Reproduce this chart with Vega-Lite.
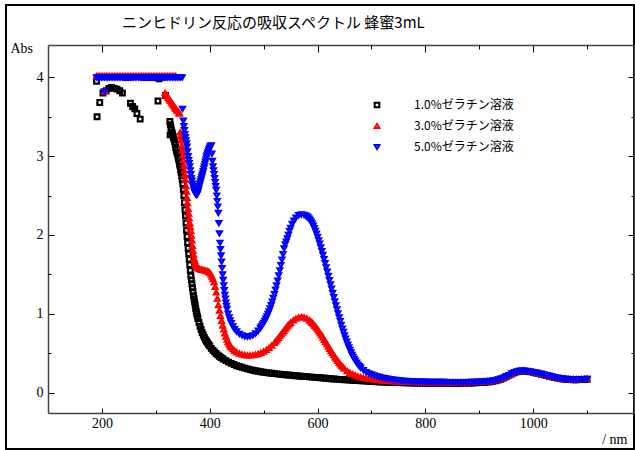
{
"$schema":"https://vega.github.io/schema/vega-lite/v6.json",
"width":628,"height":444,"autosize":"none",
"padding":{"left":6,"top":5,"right":1,"bottom":1},
"background":"white",
"title":{"text":"ニンヒドリン反応の吸収スペクトル 蜂蜜3mL","anchor":"start","frame":"group","dx":116,"offset":-38,"baseline":"alphabetic","font":"Noto Sans CJK JP","fontSize":15,"fontWeight":"normal","color":"#000"},
"config":{"view":{"stroke":"#000","strokeWidth":2},
"axis":{"grid":false,"labelFont":"Liberation Serif","labelFontSize":14,"labelColor":"#000","tickColor":"#000","tickWidth":1,"domainColor":"#444","domainWidth":1.5,"titleFont":"Liberation Serif","titleFontSize":14,"titleFontWeight":"normal","titleColor":"#000","labelFlush":false}},
"resolve":{"axis":{"x":"independent","y":"independent"}},
"layer":[
{"data":{"values":[
{"s":"a","w":190,"v":3.95},{"s":"a","w":191,"v":3.5},{"s":"a","w":196,"v":3.68},{"s":"a","w":202,"v":3.8},{"s":"a","w":208,"v":3.83},{"s":"a","w":213,"v":3.86},{"s":"a","w":218,"v":3.87},{"s":"a","w":223,"v":3.86},{"s":"a","w":228,"v":3.85},{"s":"a","w":233,"v":3.83},{"s":"a","w":238,"v":3.8},{"s":"a","w":244,"v":4},{"s":"a","w":250,"v":4},{"s":"a","w":253,"v":3.67},{"s":"a","w":257,"v":3.63},{"s":"a","w":261,"v":3.6},{"s":"a","w":265,"v":3.54},{"s":"a","w":271,"v":3.47},{"s":"a","w":278,"v":4},{"s":"a","w":286,"v":4},{"s":"a","w":294,"v":4},{"s":"a","w":300,"v":4},{"s":"a","w":304,"v":3.7},{"s":"a","w":306,"v":3.98},{"s":"a","w":312,"v":4},{"s":"a","w":318,"v":3.77},
{"s":"a","w":326,"v":3.44},{"s":"a","w":326.5,"v":3.27},{"s":"a","w":327,"v":3.4},{"s":"a","w":328,"v":3.36},{"s":"a","w":329,"v":3.33},{"s":"a","w":330,"v":3.3},{"s":"a","w":331,"v":3.28},{"s":"a","w":332,"v":3.25},{"s":"a","w":333,"v":3.23},{"s":"a","w":334,"v":3.21},{"s":"a","w":335,"v":3.18},{"s":"a","w":336,"v":3.15},{"s":"a","w":337,"v":3.11},{"s":"a","w":338,"v":3.08},{"s":"a","w":339,"v":3.05},{"s":"a","w":340,"v":3.03},{"s":"a","w":341,"v":3},{"s":"a","w":342,"v":2.97},{"s":"a","w":343,"v":2.94},{"s":"a","w":344,"v":2.9},{"s":"a","w":345,"v":2.87},{"s":"a","w":346,"v":2.83},{"s":"a","w":347,"v":2.79},{"s":"a","w":348,"v":2.75},{"s":"a","w":349,"v":2.7},{"s":"a","w":350,"v":2.65},{"s":"a","w":351,"v":2.58},{"s":"a","w":352,"v":2.5},{"s":"a","w":353,"v":2.41},{"s":"a","w":354,"v":2.32},{"s":"a","w":355,"v":2.24},{"s":"a","w":356,"v":2.15},{"s":"a","w":357,"v":2.06},{"s":"a","w":358,"v":1.98},{"s":"a","w":359,"v":1.9},{"s":"a","w":360,"v":1.83},{"s":"a","w":361,"v":1.76},{"s":"a","w":362,"v":1.69},{"s":"a","w":363,"v":1.62},{"s":"a","w":364,"v":1.55},{"s":"a","w":365,"v":1.48},{"s":"a","w":366,"v":1.43},{"s":"a","w":367,"v":1.38},{"s":"a","w":368,"v":1.33},{"s":"a","w":369,"v":1.28},{"s":"a","w":370,"v":1.23},{"s":"a","w":371,"v":1.19},{"s":"a","w":372,"v":1.15},{"s":"a","w":373,"v":1.11},{"s":"a","w":374,"v":1.07},{"s":"a","w":375,"v":1.03},{"s":"a","w":376,"v":1},{"s":"a","w":377,"v":0.97},{"s":"a","w":378,"v":0.94},{"s":"a","w":380,"v":0.89},{"s":"a","w":382,"v":0.84},{"s":"a","w":384,"v":0.8},{"s":"a","w":386,"v":0.76},{"s":"a","w":388,"v":0.73},{"s":"a","w":390,"v":0.7},{"s":"a","w":392,"v":0.67},{"s":"a","w":394,"v":0.65},{"s":"a","w":396,"v":0.63},{"s":"a","w":398,"v":0.61},{"s":"a","w":400,"v":0.59},{"s":"a","w":403,"v":0.56},{"s":"a","w":406,"v":0.535},{"s":"a","w":409,"v":0.515},{"s":"a","w":412,"v":0.495},{"s":"a","w":415,"v":0.475},{"s":"a","w":418,"v":0.46},{"s":"a","w":421,"v":0.445},{"s":"a","w":425,"v":0.425},
{"s":"a","w":430,"v":0.405},{"s":"a","w":435,"v":0.385},{"s":"a","w":440,"v":0.37},{"s":"a","w":445,"v":0.355},{"s":"a","w":450,"v":0.34},{"s":"a","w":455,"v":0.33},{"s":"a","w":460,"v":0.32},{"s":"a","w":465,"v":0.31},{"s":"a","w":470,"v":0.3},{"s":"a","w":475,"v":0.29},{"s":"a","w":480,"v":0.283},{"s":"a","w":485,"v":0.276},{"s":"a","w":490,"v":0.27},{"s":"a","w":495,"v":0.264},{"s":"a","w":500,"v":0.258},{"s":"a","w":505,"v":0.253},{"s":"a","w":510,"v":0.248},{"s":"a","w":515,"v":0.244},{"s":"a","w":520,"v":0.24},{"s":"a","w":525,"v":0.236},{"s":"a","w":530,"v":0.232},{"s":"a","w":535,"v":0.228},{"s":"a","w":540,"v":0.225},{"s":"a","w":545,"v":0.222},{"s":"a","w":550,"v":0.219},{"s":"a","w":555,"v":0.216},{"s":"a","w":560,"v":0.213},{"s":"a","w":565,"v":0.21},{"s":"a","w":570,"v":0.207},{"s":"a","w":575,"v":0.204},{"s":"a","w":580,"v":0.201},{"s":"a","w":585,"v":0.198},{"s":"a","w":590,"v":0.195},{"s":"a","w":595,"v":0.192},{"s":"a","w":600,"v":0.19},{"s":"a","w":605,"v":0.187},{"s":"a","w":610,"v":0.184},{"s":"a","w":615,"v":0.181},{"s":"a","w":620,"v":0.178},{"s":"a","w":625,"v":0.175},{"s":"a","w":630,"v":0.172},{"s":"a","w":635,"v":0.17},{"s":"a","w":640,"v":0.167},{"s":"a","w":645,"v":0.164},{"s":"a","w":650,"v":0.162},{"s":"a","w":655,"v":0.16},{"s":"a","w":660,"v":0.157},{"s":"a","w":665,"v":0.155},{"s":"a","w":670,"v":0.153},{"s":"a","w":675,"v":0.151},{"s":"a","w":680,"v":0.149},{"s":"a","w":685,"v":0.147},{"s":"a","w":690,"v":0.145},{"s":"a","w":695,"v":0.143},{"s":"a","w":700,"v":0.141},{"s":"a","w":705,"v":0.139},{"s":"a","w":710,"v":0.137},{"s":"a","w":715,"v":0.135},{"s":"a","w":720,"v":0.134},{"s":"a","w":725,"v":0.132},{"s":"a","w":730,"v":0.131},{"s":"a","w":735,"v":0.13},{"s":"a","w":740,"v":0.128},{"s":"a","w":745,"v":0.127},{"s":"a","w":750,"v":0.126},{"s":"a","w":755,"v":0.125},{"s":"a","w":760,"v":0.124},{"s":"a","w":765,"v":0.123},{"s":"a","w":770,"v":0.122},{"s":"a","w":775,"v":0.121},{"s":"a","w":780,"v":0.12},{"s":"a","w":785,"v":0.12},{"s":"a","w":790,"v":0.119},{"s":"a","w":795,"v":0.119},{"s":"a","w":800,"v":0.118},{"s":"a","w":805,"v":0.118},{"s":"a","w":810,"v":0.118},{"s":"a","w":815,"v":0.117},{"s":"a","w":820,"v":0.117},{"s":"a","w":825,"v":0.117},{"s":"a","w":830,"v":0.117},{"s":"a","w":835,"v":0.117},{"s":"a","w":840,"v":0.117},{"s":"a","w":845,"v":0.117},{"s":"a","w":850,"v":0.117},{"s":"a","w":855,"v":0.118},{"s":"a","w":860,"v":0.118},{"s":"a","w":865,"v":0.118},{"s":"a","w":870,"v":0.119},{"s":"a","w":875,"v":0.119},{"s":"a","w":880,"v":0.12},{"s":"a","w":885,"v":0.121},{"s":"a","w":890,"v":0.122},{"s":"a","w":895,"v":0.123},{"s":"a","w":900,"v":0.125},{"s":"a","w":905,"v":0.127},{"s":"a","w":910,"v":0.13},{"s":"a","w":915,"v":0.133},{"s":"a","w":920,"v":0.137},{"s":"a","w":925,"v":0.142},{"s":"a","w":930,"v":0.148},{"s":"a","w":935,"v":0.157},{"s":"a","w":940,"v":0.168},{"s":"a","w":945,"v":0.183},{"s":"a","w":950,"v":0.2},{"s":"a","w":955,"v":0.218},{"s":"a","w":960,"v":0.235},{"s":"a","w":965,"v":0.25},{"s":"a","w":970,"v":0.262},{"s":"a","w":975,"v":0.27},{"s":"a","w":980,"v":0.273},{"s":"a","w":985,"v":0.272},{"s":"a","w":990,"v":0.268},{"s":"a","w":995,"v":0.262},{"s":"a","w":1000,"v":0.255},{"s":"a","w":1005,"v":0.248},{"s":"a","w":1010,"v":0.24},{"s":"a","w":1015,"v":0.232},{"s":"a","w":1020,"v":0.224},{"s":"a","w":1025,"v":0.215},{"s":"a","w":1030,"v":0.206},{"s":"a","w":1035,"v":0.198},{"s":"a","w":1040,"v":0.19},{"s":"a","w":1045,"v":0.183},{"s":"a","w":1050,"v":0.177},{"s":"a","w":1055,"v":0.172},{"s":"a","w":1060,"v":0.168},{"s":"a","w":1065,"v":0.165},{"s":"a","w":1070,"v":0.163},{"s":"a","w":1075,"v":0.162},{"s":"a","w":1080,"v":0.162},{"s":"a","w":1085,"v":0.163},{"s":"a","w":1090,"v":0.165},{"s":"a","w":1095,"v":0.167},{"s":"a","w":1100,"v":0.169},
{"s":"b","w":190,"v":4.015},{"s":"b","w":193,"v":4.015},{"s":"b","w":196,"v":4.015},{"s":"b","w":199,"v":4.015},{"s":"b","w":202,"v":4.015},{"s":"b","w":205,"v":4.015},{"s":"b","w":208,"v":4.015},{"s":"b","w":211,"v":4.015},{"s":"b","w":214,"v":4.015},{"s":"b","w":217,"v":4.015},{"s":"b","w":220,"v":4.015},{"s":"b","w":223,"v":4.015},{"s":"b","w":226,"v":4.015},{"s":"b","w":229,"v":4.015},{"s":"b","w":232,"v":4.015},{"s":"b","w":235,"v":4.015},{"s":"b","w":238,"v":4.015},{"s":"b","w":241,"v":4.015},{"s":"b","w":244,"v":4.015},{"s":"b","w":247,"v":4.015},{"s":"b","w":250,"v":4.015},{"s":"b","w":253,"v":4.015},{"s":"b","w":256,"v":4.015},{"s":"b","w":259,"v":4.015},{"s":"b","w":262,"v":4.015},{"s":"b","w":265,"v":4.015},{"s":"b","w":268,"v":4.015},{"s":"b","w":271,"v":4.015},{"s":"b","w":274,"v":4.015},{"s":"b","w":277,"v":4.015},{"s":"b","w":280,"v":4.015},{"s":"b","w":283,"v":4.015},{"s":"b","w":286,"v":4.015},{"s":"b","w":289,"v":4.015},{"s":"b","w":292,"v":4.015},{"s":"b","w":295,"v":4.015},{"s":"b","w":298,"v":4.015},{"s":"b","w":301,"v":4.015},{"s":"b","w":304,"v":4.015},{"s":"b","w":307,"v":4.015},{"s":"b","w":310,"v":4.015},{"s":"b","w":313,"v":4.015},{"s":"b","w":316,"v":4.015},{"s":"b","w":319,"v":4.015},{"s":"b","w":322,"v":4.015},{"s":"b","w":325,"v":4.015},{"s":"b","w":328,"v":4.015},{"s":"b","w":331,"v":4.015},{"s":"b","w":334,"v":4.015},{"s":"b","w":337,"v":4.015},{"s":"b","w":206,"v":3.82},
{"s":"b","w":317,"v":3.8},{"s":"b","w":319,"v":3.78},{"s":"b","w":321,"v":3.76},{"s":"b","w":323,"v":3.74},{"s":"b","w":325,"v":3.72},{"s":"b","w":327,"v":3.7},{"s":"b","w":329,"v":3.68},{"s":"b","w":331,"v":3.66},{"s":"b","w":333,"v":3.64},{"s":"b","w":335,"v":3.62},{"s":"b","w":337,"v":3.6},{"s":"b","w":339,"v":3.58},{"s":"b","w":341,"v":3.57},{"s":"b","w":343,"v":3.55},{"s":"b","w":344,"v":3.54},
{"s":"b","w":345,"v":3.3},{"s":"b","w":346,"v":3.25},{"s":"b","w":347,"v":3.2},{"s":"b","w":348,"v":3.13},{"s":"b","w":349,"v":3.07},{"s":"b","w":350,"v":3.01},{"s":"b","w":351,"v":2.95},{"s":"b","w":352,"v":2.88},{"s":"b","w":353,"v":2.82},{"s":"b","w":354,"v":2.76},{"s":"b","w":355,"v":2.7},{"s":"b","w":356,"v":2.62},{"s":"b","w":357,"v":2.55},{"s":"b","w":358,"v":2.47},{"s":"b","w":359,"v":2.4},{"s":"b","w":360,"v":2.33},{"s":"b","w":361,"v":2.27},{"s":"b","w":362,"v":2.21},{"s":"b","w":363,"v":2.15},{"s":"b","w":364,"v":2.1},{"s":"b","w":365,"v":2.05},{"s":"b","w":366,"v":1.99},{"s":"b","w":367,"v":1.93},{"s":"b","w":368,"v":1.86},{"s":"b","w":369,"v":1.8},{"s":"b","w":370,"v":1.75},{"s":"b","w":371,"v":1.7},{"s":"b","w":372,"v":1.67},{"s":"b","w":373,"v":1.64},{"s":"b","w":374,"v":1.62},{"s":"b","w":375,"v":1.6},{"s":"b","w":377,"v":1.585},{"s":"b","w":379,"v":1.575},{"s":"b","w":381,"v":1.565},{"s":"b","w":384,"v":1.56},{"s":"b","w":387,"v":1.555},{"s":"b","w":390,"v":1.55},{"s":"b","w":393,"v":1.545},{"s":"b","w":396,"v":1.54},{"s":"b","w":398,"v":1.53},{"s":"b","w":400,"v":1.52},{"s":"b","w":402,"v":1.5},{"s":"b","w":404,"v":1.47},{"s":"b","w":406,"v":1.44},{"s":"b","w":408,"v":1.4},{"s":"b","w":410,"v":1.34},{"s":"b","w":412,"v":1.27},{"s":"b","w":414,"v":1.19},{"s":"b","w":416,"v":1.11},{"s":"b","w":418,"v":1.04},{"s":"b","w":420,"v":0.97},{"s":"b","w":422,"v":0.91},{"s":"b","w":424,"v":0.85},{"s":"b","w":426,"v":0.8},{"s":"b","w":428,"v":0.75},{"s":"b","w":430,"v":0.71},{"s":"b","w":432,"v":0.67},{"s":"b","w":434,"v":0.64},{"s":"b","w":436,"v":0.615},{"s":"b","w":438,"v":0.59},{"s":"b","w":440,"v":0.572},{"s":"b","w":443,"v":0.55},{"s":"b","w":446,"v":0.53},{"s":"b","w":450,"v":0.51},{"s":"b","w":455,"v":0.495},{"s":"b","w":460,"v":0.483},{"s":"b","w":465,"v":0.475},{"s":"b","w":470,"v":0.47},{"s":"b","w":475,"v":0.47},{"s":"b","w":480,"v":0.473},{"s":"b","w":485,"v":0.48},{"s":"b","w":490,"v":0.49},{"s":"b","w":495,"v":0.503},{"s":"b","w":500,"v":0.52},{"s":"b","w":505,"v":0.54},{"s":"b","w":510,"v":0.565},{"s":"b","w":515,"v":0.595},{"s":"b","w":520,"v":0.63},{"s":"b","w":522.5,"v":0.65},{"s":"b","w":525,"v":0.67},{"s":"b","w":527.5,"v":0.692},{"s":"b","w":530,"v":0.715},{"s":"b","w":532.5,"v":0.737},{"s":"b","w":535,"v":0.76},{"s":"b","w":537.5,"v":0.782},{"s":"b","w":540,"v":0.805},{"s":"b","w":542.5,"v":0.828},{"s":"b","w":545,"v":0.85},{"s":"b","w":547.5,"v":0.868},{"s":"b","w":550,"v":0.885},{"s":"b","w":555,"v":0.915},{"s":"b","w":560,"v":0.937},{"s":"b","w":565,"v":0.952},{"s":"b","w":570,"v":0.958},{"s":"b","w":575,"v":0.953},{"s":"b","w":580,"v":0.938},{"s":"b","w":585,"v":0.915},{"s":"b","w":587.5,"v":0.9},{"s":"b","w":590,"v":0.884},{"s":"b","w":592.5,"v":0.866},{"s":"b","w":595,"v":0.846},{"s":"b","w":597.5,"v":0.824},{"s":"b","w":600,"v":0.8},{"s":"b","w":602.5,"v":0.776},{"s":"b","w":605,"v":0.75},{"s":"b","w":607.5,"v":0.724},{"s":"b","w":610,"v":0.697},{"s":"b","w":612.5,"v":0.669},{"s":"b","w":615,"v":0.64},{"s":"b","w":617.5,"v":0.612},{"s":"b","w":620,"v":0.583},{"s":"b","w":622.5,"v":0.555},{"s":"b","w":625,"v":0.527},{"s":"b","w":627.5,"v":0.5},{"s":"b","w":630,"v":0.473},{"s":"b","w":632.5,"v":0.447},{"s":"b","w":635,"v":0.423},{"s":"b","w":637.5,"v":0.4},{"s":"b","w":640,"v":0.377},{"s":"b","w":642.5,"v":0.356},{"s":"b","w":645,"v":0.337},{"s":"b","w":647.5,"v":0.319},{"s":"b","w":650,"v":0.302},{"s":"b","w":655,"v":0.273},{"s":"b","w":660,"v":0.25},{"s":"b","w":665,"v":0.232},{"s":"b","w":670,"v":0.217},{"s":"b","w":675,"v":0.205},{"s":"b","w":680,"v":0.195},{"s":"b","w":685,"v":0.187},{"s":"b","w":690,"v":0.18},{"s":"b","w":695,"v":0.174},{"s":"b","w":700,"v":0.169},{"s":"b","w":705,"v":0.164},{"s":"b","w":710,"v":0.16},{"s":"b","w":715,"v":0.156},{"s":"b","w":720,"v":0.152},{"s":"b","w":725,"v":0.149},{"s":"b","w":730,"v":0.147},{"s":"b","w":735,"v":0.145},{"s":"b","w":740,"v":0.143},{"s":"b","w":745,"v":0.141},{"s":"b","w":750,"v":0.139},{"s":"b","w":755,"v":0.138},{"s":"b","w":760,"v":0.137},{"s":"b","w":765,"v":0.136},{"s":"b","w":770,"v":0.135},{"s":"b","w":775,"v":0.134},{"s":"b","w":780,"v":0.133},{"s":"b","w":785,"v":0.132},{"s":"b","w":790,"v":0.131},{"s":"b","w":795,"v":0.131},{"s":"b","w":800,"v":0.13},{"s":"b","w":805,"v":0.13},{"s":"b","w":810,"v":0.13},{"s":"b","w":815,"v":0.129},{"s":"b","w":820,"v":0.129},{"s":"b","w":825,"v":0.129},{"s":"b","w":830,"v":0.129},{"s":"b","w":835,"v":0.129},{"s":"b","w":840,"v":0.129},{"s":"b","w":845,"v":0.129},{"s":"b","w":850,"v":0.129},{"s":"b","w":855,"v":0.13},{"s":"b","w":860,"v":0.13},{"s":"b","w":865,"v":0.13},{"s":"b","w":870,"v":0.131},{"s":"b","w":875,"v":0.131},{"s":"b","w":880,"v":0.132},{"s":"b","w":885,"v":0.133},{"s":"b","w":890,"v":0.134},{"s":"b","w":895,"v":0.135},{"s":"b","w":900,"v":0.137},{"s":"b","w":905,"v":0.138},{"s":"b","w":910,"v":0.14},{"s":"b","w":915,"v":0.142},{"s":"b","w":920,"v":0.146},{"s":"b","w":925,"v":0.15},{"s":"b","w":930,"v":0.156},{"s":"b","w":935,"v":0.164},{"s":"b","w":940,"v":0.175},{"s":"b","w":945,"v":0.189},{"s":"b","w":950,"v":0.206},{"s":"b","w":955,"v":0.224},{"s":"b","w":960,"v":0.241},{"s":"b","w":965,"v":0.256},{"s":"b","w":970,"v":0.268},{"s":"b","w":975,"v":0.276},{"s":"b","w":980,"v":0.279},{"s":"b","w":985,"v":0.278},{"s":"b","w":990,"v":0.274},{"s":"b","w":995,"v":0.268},{"s":"b","w":1000,"v":0.261},{"s":"b","w":1005,"v":0.254},{"s":"b","w":1010,"v":0.246},{"s":"b","w":1015,"v":0.238},{"s":"b","w":1020,"v":0.23},{"s":"b","w":1025,"v":0.221},{"s":"b","w":1030,"v":0.212},{"s":"b","w":1035,"v":0.204},{"s":"b","w":1040,"v":0.196},{"s":"b","w":1045,"v":0.189},{"s":"b","w":1050,"v":0.183},{"s":"b","w":1055,"v":0.178},{"s":"b","w":1060,"v":0.174},{"s":"b","w":1065,"v":0.171},{"s":"b","w":1070,"v":0.169},{"s":"b","w":1075,"v":0.168},{"s":"b","w":1080,"v":0.168},{"s":"b","w":1085,"v":0.169},{"s":"b","w":1090,"v":0.171},{"s":"b","w":1095,"v":0.173},{"s":"b","w":1100,"v":0.175},
{"s":"c","w":190,"v":4},{"s":"c","w":193,"v":4},{"s":"c","w":196,"v":4},{"s":"c","w":199,"v":4},{"s":"c","w":202,"v":4},{"s":"c","w":205,"v":4},{"s":"c","w":208,"v":4},{"s":"c","w":211,"v":4},{"s":"c","w":214,"v":4},{"s":"c","w":217,"v":4},{"s":"c","w":220,"v":4},{"s":"c","w":223,"v":4},{"s":"c","w":226,"v":4},{"s":"c","w":229,"v":4},{"s":"c","w":232,"v":4},{"s":"c","w":235,"v":4},{"s":"c","w":238,"v":4},{"s":"c","w":241,"v":4},{"s":"c","w":244,"v":4},{"s":"c","w":247,"v":4},{"s":"c","w":250,"v":4},{"s":"c","w":253,"v":4},{"s":"c","w":256,"v":4},{"s":"c","w":259,"v":4},{"s":"c","w":262,"v":4},{"s":"c","w":265,"v":4},{"s":"c","w":268,"v":4},{"s":"c","w":271,"v":4},{"s":"c","w":274,"v":4},{"s":"c","w":277,"v":4},{"s":"c","w":280,"v":4},{"s":"c","w":283,"v":4},{"s":"c","w":286,"v":4},{"s":"c","w":289,"v":4},{"s":"c","w":292,"v":4},{"s":"c","w":295,"v":4},{"s":"c","w":298,"v":4},{"s":"c","w":301,"v":4},{"s":"c","w":304,"v":4},{"s":"c","w":307,"v":4},{"s":"c","w":310,"v":4},{"s":"c","w":313,"v":4},{"s":"c","w":316,"v":4},{"s":"c","w":319,"v":4},{"s":"c","w":322,"v":4},{"s":"c","w":325,"v":4},{"s":"c","w":328,"v":4},{"s":"c","w":331,"v":4},{"s":"c","w":334,"v":4},{"s":"c","w":337,"v":4},{"s":"c","w":340,"v":4},{"s":"c","w":343,"v":4},{"s":"c","w":346,"v":4},{"s":"c","w":349,"v":4},{"s":"c","w":205,"v":3.82},{"s":"c","w":349.5,"v":3.6},
{"s":"c","w":351,"v":3.45},{"s":"c","w":352,"v":3.38},{"s":"c","w":353,"v":3.33},{"s":"c","w":354,"v":3.28},{"s":"c","w":355,"v":3.24},{"s":"c","w":356,"v":3.2},{"s":"c","w":357,"v":3.16},{"s":"c","w":358,"v":3.12},{"s":"c","w":359,"v":3.06},{"s":"c","w":360,"v":3},{"s":"c","w":361,"v":2.95},{"s":"c","w":362,"v":2.91},{"s":"c","w":363,"v":2.87},{"s":"c","w":364,"v":2.82},{"s":"c","w":365,"v":2.77},{"s":"c","w":366,"v":2.72},{"s":"c","w":367,"v":2.69},{"s":"c","w":368,"v":2.65},{"s":"c","w":369,"v":2.62},{"s":"c","w":370,"v":2.59},{"s":"c","w":371,"v":2.57},{"s":"c","w":372,"v":2.55},{"s":"c","w":373,"v":2.53},{"s":"c","w":374,"v":2.52},{"s":"c","w":375,"v":2.51},{"s":"c","w":376,"v":2.51},{"s":"c","w":377,"v":2.52},{"s":"c","w":378,"v":2.54},{"s":"c","w":379,"v":2.57},{"s":"c","w":380,"v":2.6},{"s":"c","w":381,"v":2.63},{"s":"c","w":382,"v":2.655},{"s":"c","w":383,"v":2.68},{"s":"c","w":384,"v":2.705},{"s":"c","w":385,"v":2.73},{"s":"c","w":386,"v":2.755},{"s":"c","w":387,"v":2.78},{"s":"c","w":388,"v":2.81},{"s":"c","w":389,"v":2.84},{"s":"c","w":390,"v":2.87},{"s":"c","w":391,"v":2.9},{"s":"c","w":392,"v":2.93},{"s":"c","w":393,"v":2.96},{"s":"c","w":394,"v":2.99},{"s":"c","w":395,"v":3.01},{"s":"c","w":396,"v":3.03},{"s":"c","w":397,"v":3.05},{"s":"c","w":398,"v":3.07},{"s":"c","w":399,"v":3.09},{"s":"c","w":400,"v":3.105},{"s":"c","w":401,"v":3.12},{"s":"c","w":402,"v":3.13},{"s":"c","w":403,"v":3.135},{"s":"c","w":404,"v":3.03},{"s":"c","w":405,"v":2.94},{"s":"c","w":406,"v":2.87},{"s":"c","w":407,"v":2.82},{"s":"c","w":408,"v":2.77},{"s":"c","w":409,"v":2.72},{"s":"c","w":410,"v":2.67},{"s":"c","w":411,"v":2.62},{"s":"c","w":412,"v":2.57},{"s":"c","w":413,"v":2.5},{"s":"c","w":414,"v":2.43},{"s":"c","w":415,"v":2.36},{"s":"c","w":416,"v":2.28},{"s":"c","w":417,"v":2.15},{"s":"c","w":418,"v":2.02},{"s":"c","w":419,"v":1.9},{"s":"c","w":420,"v":1.82},{"s":"c","w":421,"v":1.74},{"s":"c","w":422,"v":1.66},{"s":"c","w":423,"v":1.58},{"s":"c","w":424,"v":1.5},{"s":"c","w":425,"v":1.43},{"s":"c","w":426,"v":1.36},{"s":"c","w":427,"v":1.3},{"s":"c","w":428,"v":1.24},{"s":"c","w":429,"v":1.19},{"s":"c","w":430,"v":1.14},{"s":"c","w":431,"v":1.1},{"s":"c","w":432,"v":1.06},{"s":"c","w":434,"v":1},{"s":"c","w":436,"v":0.955},{"s":"c","w":438,"v":0.915},{"s":"c","w":440,"v":0.88},{"s":"c","w":443,"v":0.84},{"s":"c","w":446,"v":0.805},{"s":"c","w":450,"v":0.775},{"s":"c","w":455,"v":0.745},{"s":"c","w":460,"v":0.725},{"s":"c","w":465,"v":0.713},{"s":"c","w":470,"v":0.71},{"s":"c","w":475,"v":0.713},{"s":"c","w":480,"v":0.725},{"s":"c","w":485,"v":0.75},{"s":"c","w":490,"v":0.785},{"s":"c","w":494,"v":0.82},{"s":"c","w":496,"v":0.84},{"s":"c","w":498,"v":0.862},{"s":"c","w":500,"v":0.885},{"s":"c","w":502,"v":0.91},{"s":"c","w":504,"v":0.937},{"s":"c","w":506,"v":0.965},{"s":"c","w":508,"v":0.997},{"s":"c","w":510,"v":1.03},{"s":"c","w":512,"v":1.068},{"s":"c","w":514,"v":1.108},{"s":"c","w":516,"v":1.152},{"s":"c","w":518,"v":1.2},{"s":"c","w":520,"v":1.25},{"s":"c","w":522,"v":1.305},{"s":"c","w":524,"v":1.36},{"s":"c","w":526,"v":1.42},{"s":"c","w":528,"v":1.485},{"s":"c","w":530,"v":1.55},{"s":"c","w":532,"v":1.618},{"s":"c","w":534,"v":1.686},{"s":"c","w":536,"v":1.755},{"s":"c","w":538,"v":1.83},{"s":"c","w":540,"v":1.88},{"s":"c","w":542,"v":1.915},{"s":"c","w":544,"v":1.955},{"s":"c","w":546,"v":2},{"s":"c","w":548,"v":2.05},{"s":"c","w":550,"v":2.09},{"s":"c","w":553,"v":2.14},{"s":"c","w":556,"v":2.18},{"s":"c","w":560,"v":2.22},{"s":"c","w":565,"v":2.25},{"s":"c","w":570,"v":2.26},{"s":"c","w":575,"v":2.255},{"s":"c","w":578,"v":2.245},{"s":"c","w":580,"v":2.235},{"s":"c","w":582,"v":2.222},{"s":"c","w":584,"v":2.208},{"s":"c","w":586,"v":2.19},{"s":"c","w":588,"v":2.17},{"s":"c","w":590,"v":2.145},{"s":"c","w":592,"v":2.117},{"s":"c","w":594,"v":2.087},{"s":"c","w":596,"v":2.052},{"s":"c","w":598,"v":2.015},{"s":"c","w":600,"v":1.975},{"s":"c","w":602,"v":1.932},{"s":"c","w":604,"v":1.888},{"s":"c","w":606,"v":1.842},{"s":"c","w":608,"v":1.794},{"s":"c","w":610,"v":1.745},{"s":"c","w":612,"v":1.694},{"s":"c","w":614,"v":1.642},{"s":"c","w":616,"v":1.589},{"s":"c","w":618,"v":1.535},{"s":"c","w":620,"v":1.48},{"s":"c","w":622,"v":1.426},{"s":"c","w":624,"v":1.372},{"s":"c","w":626,"v":1.318},{"s":"c","w":628,"v":1.264},{"s":"c","w":630,"v":1.21},{"s":"c","w":632,"v":1.158},{"s":"c","w":634,"v":1.106},{"s":"c","w":636,"v":1.055},{"s":"c","w":638,"v":1.005},{"s":"c","w":640,"v":0.955},{"s":"c","w":642,"v":0.907},{"s":"c","w":644,"v":0.859},{"s":"c","w":646,"v":0.812},{"s":"c","w":648,"v":0.768},{"s":"c","w":650,"v":0.725},{"s":"c","w":652,"v":0.684},{"s":"c","w":654,"v":0.645},{"s":"c","w":656,"v":0.607},{"s":"c","w":658,"v":0.572},{"s":"c","w":660,"v":0.54},{"s":"c","w":662,"v":0.509},{"s":"c","w":664,"v":0.479},{"s":"c","w":666,"v":0.452},{"s":"c","w":668,"v":0.428},{"s":"c","w":670,"v":0.405},{"s":"c","w":672.5,"v":0.38},{"s":"c","w":675,"v":0.355},{"s":"c","w":677.5,"v":0.334},{"s":"c","w":680,"v":0.315},{"s":"c","w":685,"v":0.285},{"s":"c","w":690,"v":0.26},{"s":"c","w":695,"v":0.243},{"s":"c","w":700,"v":0.23},{"s":"c","w":705,"v":0.217},{"s":"c","w":710,"v":0.205},{"s":"c","w":715,"v":0.197},{"s":"c","w":720,"v":0.19},{"s":"c","w":725,"v":0.182},{"s":"c","w":730,"v":0.175},{"s":"c","w":735,"v":0.17},{"s":"c","w":740,"v":0.165},{"s":"c","w":745,"v":0.16},{"s":"c","w":750,"v":0.156},{"s":"c","w":755,"v":0.152},{"s":"c","w":760,"v":0.149},{"s":"c","w":765,"v":0.147},{"s":"c","w":770,"v":0.145},{"s":"c","w":775,"v":0.143},{"s":"c","w":780,"v":0.141},{"s":"c","w":785,"v":0.14},{"s":"c","w":790,"v":0.139},{"s":"c","w":795,"v":0.138},{"s":"c","w":800,"v":0.137},{"s":"c","w":805,"v":0.136},{"s":"c","w":810,"v":0.136},{"s":"c","w":815,"v":0.135},{"s":"c","w":820,"v":0.135},{"s":"c","w":825,"v":0.134},{"s":"c","w":830,"v":0.134},{"s":"c","w":835,"v":0.134},{"s":"c","w":840,"v":0.133},{"s":"c","w":845,"v":0.133},{"s":"c","w":850,"v":0.133},{"s":"c","w":855,"v":0.133},{"s":"c","w":860,"v":0.133},{"s":"c","w":865,"v":0.133},{"s":"c","w":870,"v":0.133},{"s":"c","w":875,"v":0.133},{"s":"c","w":880,"v":0.133},{"s":"c","w":885,"v":0.134},{"s":"c","w":890,"v":0.135},{"s":"c","w":895,"v":0.136},{"s":"c","w":900,"v":0.138},{"s":"c","w":905,"v":0.14},{"s":"c","w":910,"v":0.142},{"s":"c","w":915,"v":0.145},{"s":"c","w":920,"v":0.148},{"s":"c","w":925,"v":0.152},{"s":"c","w":930,"v":0.158},{"s":"c","w":935,"v":0.166},{"s":"c","w":940,"v":0.176},{"s":"c","w":945,"v":0.188},{"s":"c","w":950,"v":0.205},{"s":"c","w":955,"v":0.222},{"s":"c","w":960,"v":0.239},{"s":"c","w":965,"v":0.254},{"s":"c","w":970,"v":0.266},{"s":"c","w":975,"v":0.274},{"s":"c","w":980,"v":0.277},{"s":"c","w":985,"v":0.276},{"s":"c","w":990,"v":0.272},{"s":"c","w":995,"v":0.266},{"s":"c","w":1000,"v":0.259},{"s":"c","w":1005,"v":0.252},{"s":"c","w":1010,"v":0.244},{"s":"c","w":1015,"v":0.236},{"s":"c","w":1020,"v":0.228},{"s":"c","w":1025,"v":0.219},{"s":"c","w":1030,"v":0.21},{"s":"c","w":1035,"v":0.202},{"s":"c","w":1040,"v":0.194},{"s":"c","w":1045,"v":0.187},{"s":"c","w":1050,"v":0.181},{"s":"c","w":1055,"v":0.176},{"s":"c","w":1060,"v":0.172},{"s":"c","w":1065,"v":0.169},{"s":"c","w":1070,"v":0.167},{"s":"c","w":1075,"v":0.166},{"s":"c","w":1080,"v":0.166},{"s":"c","w":1085,"v":0.167},{"s":"c","w":1090,"v":0.169},{"s":"c","w":1095,"v":0.171},{"s":"c","w":1100,"v":0.173}
]},
"mark":{"type":"point","filled":false,"strokeWidth":2.2,"size":22,"opacity":1},
"encoding":{
"x":{"field":"w","type":"quantitative","scale":{"domain":[100,1187],"range":[42,628],"nice":false,"zero":false},
"axis":{"orient":"bottom","offset":-36,"values":[200,400,600,800,1000],"format":"d","tickSize":-5,"labelPadding":8,"title":"/ nm","titleX":621,"titleY":26,"titleAlign":"right","titleBaseline":"middle"}},
"y":{"field":"v","type":"quantitative","scale":{"domain":[-0.26,4.41],"range":[408,40],"nice":false,"zero":false},
"axis":{"orient":"left","offset":-42,"values":[0,1,2,3,4],"tickSize":-6,"labelPadding":11,"title":"Abs","titleAngle":0,"titleX":-38,"titleY":43,"titleAlign":"left","titleBaseline":"middle"}},
"stroke":{"field":"s","type":"nominal","scale":{"domain":["a","b","c"],"range":["#000000","#ff0000","#0000ff"]},
"legend":{"orient":"none","legendX":365,"legendY":94,"title":null,"padding":0,"labelFont":"Noto Sans CJK JP","labelFontSize":12,"labelColor":"#000","labelOffset":31,"rowPadding":7,"symbolSize":22,"symbolStrokeWidth":2,"labelExpr":"datum.label == 'a' ? '1.0%ゼラチン溶液' : datum.label == 'b' ? '3.0%ゼラチン溶液' : '5.0%ゼラチン溶液'"}},
"shape":{"field":"s","type":"nominal","scale":{"domain":["a","b","c"],"range":["square","triangle-up","triangle-down"]},
"legend":{"orient":"none","legendX":365,"legendY":94,"title":null,"padding":0,"labelFont":"Noto Sans CJK JP","labelFontSize":12,"labelColor":"#000","labelOffset":31,"rowPadding":7,"symbolSize":22,"symbolStrokeWidth":2,"labelExpr":"datum.label == 'a' ? '1.0%ゼラチン溶液' : datum.label == 'b' ? '3.0%ゼラチン溶液' : '5.0%ゼラチン溶液'"}}
}},
{"data":{"values":[]},"mark":{"type":"point"},
"encoding":{
"x":{"field":"w","type":"quantitative","axis":{"orient":"bottom","offset":-36,"values":[300,500,700,900,1100],"tickSize":-3,"labels":false,"domain":false,"title":null}},
"y":{"field":"v","type":"quantitative","axis":{"orient":"left","offset":-42,"values":[0.5,1.5,2.5,3.5],"tickSize":-3,"labels":false,"domain":false,"title":null}}}},
{"data":{"values":[]},"mark":{"type":"point"},
"encoding":{
"x":{"field":"w","type":"quantitative","axis":{"orient":"top","offset":-40,"values":[200,400,600,800,1000],"tickSize":-7,"labels":false,"title":null}},
"y":{"field":"v","type":"quantitative","axis":{"orient":"right","offset":0,"values":[0,1,2,3,4],"tickSize":-6,"labels":false,"title":null}}}},
{"data":{"values":[]},"mark":{"type":"point"},
"encoding":{
"x":{"field":"w","type":"quantitative","axis":{"orient":"top","offset":-40,"values":[300,500,700,900,1100],"tickSize":-4,"labels":false,"domain":false,"title":null}},
"y":{"field":"v","type":"quantitative","axis":{"orient":"right","offset":0,"values":[0.5,1.5,2.5,3.5],"tickSize":-3,"labels":false,"domain":false,"title":null}}}}
]
}
